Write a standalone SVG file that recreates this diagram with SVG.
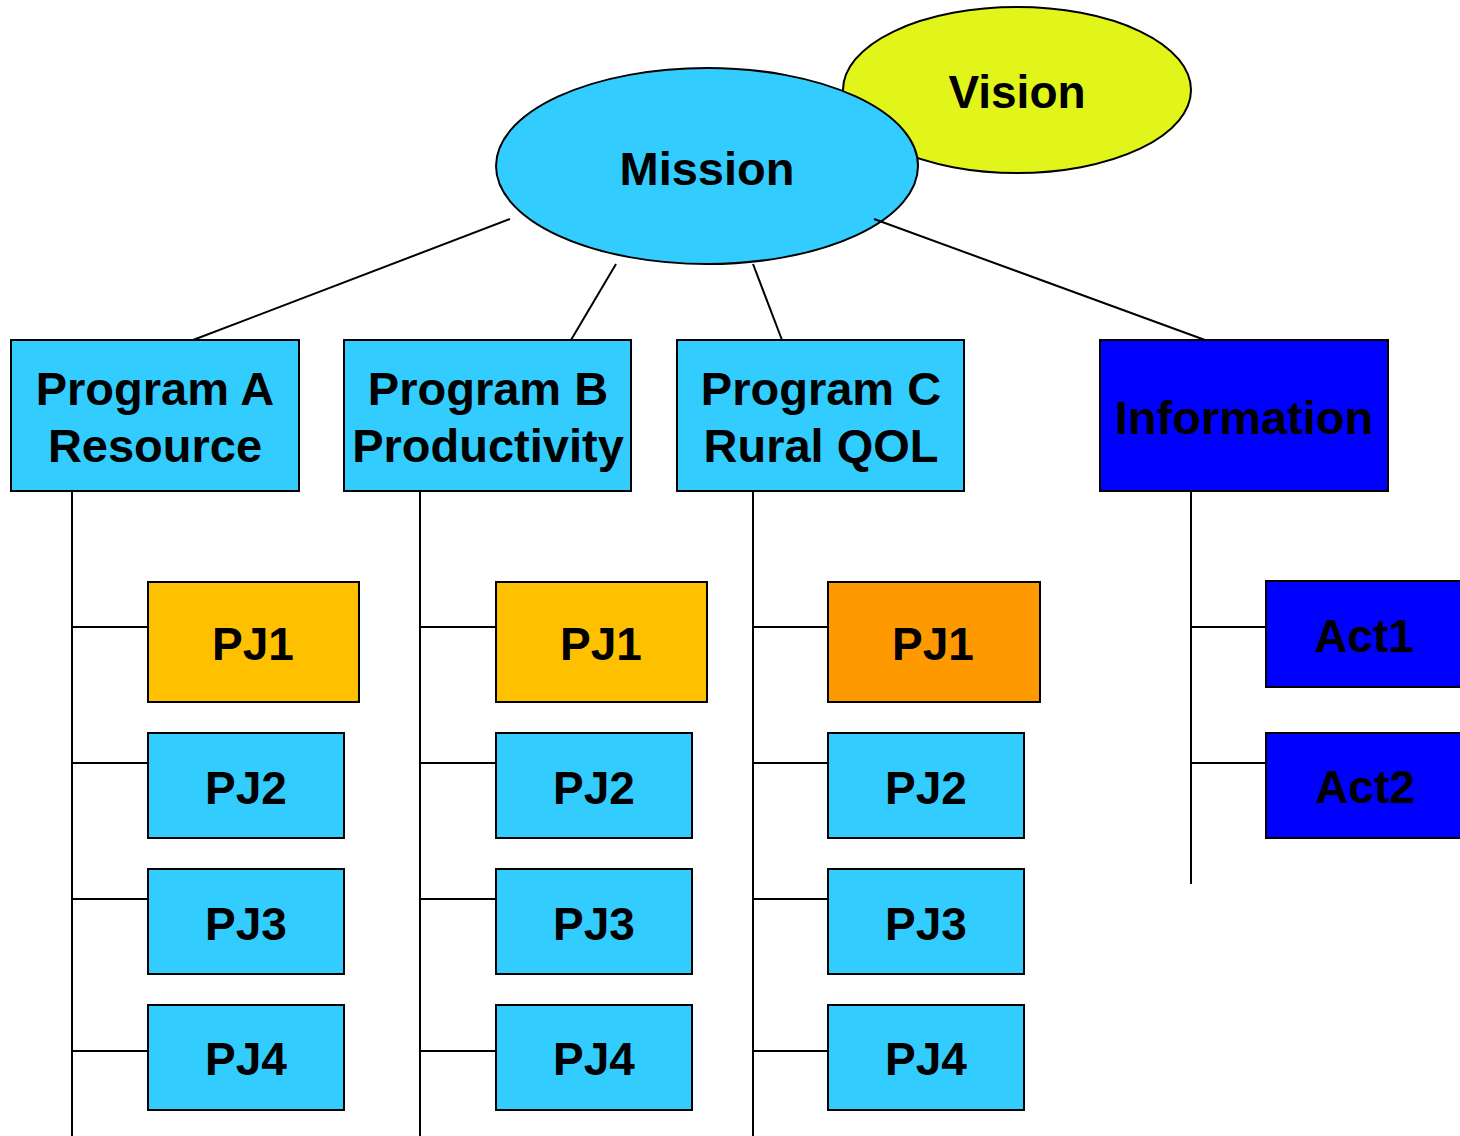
<svg xmlns="http://www.w3.org/2000/svg" width="1460" height="1136" viewBox="0 0 1460 1136">
<style>
.t{font-family:"Liberation Sans",Arial,sans-serif;font-weight:bold;fill:#000;text-anchor:middle}
.lb{fill:#33CCFF;stroke:#000;stroke-width:2}
.or{fill:#FFC000;stroke:#000;stroke-width:2}
.or2{fill:#FF9900;stroke:#000;stroke-width:2}
.bl{fill:#0000FF;stroke:#000;stroke-width:2}
.c{stroke:#000;stroke-width:2;fill:none}
</style>
<rect width="1460" height="1136" fill="#fff"/>
<g id="vision">
<ellipse cx="1017" cy="90" rx="174" ry="83" fill="#E1F51A" stroke="#000" stroke-width="2"/>
<text class="t" x="1017" y="108" font-size="46">Vision</text>
</g>
<g id="mission">
<ellipse cx="707" cy="166" rx="211" ry="98" fill="#33CCFF" stroke="#000" stroke-width="2"/>
<text class="t" x="707" y="185" font-size="47">Mission</text>
</g>
<g id="connectors">
<line class="c" x1="510" y1="219" x2="193" y2="340"/>
<line class="c" x1="616" y1="264" x2="571" y2="340"/>
<line class="c" x1="753" y1="264" x2="782" y2="340"/>
<line class="c" x1="874" y1="219" x2="1205" y2="340"/>
<line class="c" x1="72" y1="491" x2="72" y2="1136"/>
<line class="c" x1="420" y1="491" x2="420" y2="1136"/>
<line class="c" x1="753" y1="491" x2="753" y2="1136"/>
<line class="c" x1="1191" y1="491" x2="1191" y2="884"/>
<path class="c" d="M72 627H148M72 763H148M72 899H148M72 1051H148"/>
<path class="c" d="M420 627H496M420 763H496M420 899H496M420 1051H496"/>
<path class="c" d="M753 627H828M753 763H828M753 899H828M753 1051H828"/>
<path class="c" d="M1191 627H1266M1191 763H1266"/>
</g>
<g id="programA">
<rect class="lb" x="11" y="340" width="288" height="151"/>
<text class="t" x="155" y="405" font-size="47">Program A</text>
<text class="t" x="155" y="462" font-size="47">Resource</text>
</g>
<g id="programB">
<rect class="lb" x="344" y="340" width="287" height="151"/>
<text class="t" x="488" y="405" font-size="47">Program B</text>
<text class="t" x="488" y="462" font-size="47">Productivity</text>
</g>
<g id="programC">
<rect class="lb" x="677" y="340" width="287" height="151"/>
<text class="t" x="821" y="405" font-size="47">Program C</text>
<text class="t" x="821" y="462" font-size="47">Rural QOL</text>
</g>
<g id="information">
<rect class="bl" x="1100" y="340" width="288" height="151"/>
<text class="t" x="1244" y="434" font-size="47">Information</text>
</g>
<g id="a-pj1"><rect class="or" x="148" y="582" width="211" height="120"/><text class="t" x="253" y="660" font-size="46">PJ1</text></g>
<g id="a-pj2"><rect class="lb" x="148" y="733" width="196" height="105"/><text class="t" x="246" y="804" font-size="46">PJ2</text></g>
<g id="a-pj3"><rect class="lb" x="148" y="869" width="196" height="105"/><text class="t" x="246" y="940" font-size="46">PJ3</text></g>
<g id="a-pj4"><rect class="lb" x="148" y="1005" width="196" height="105"/><text class="t" x="246" y="1075" font-size="46">PJ4</text></g>
<g id="b-pj1"><rect class="or" x="496" y="582" width="211" height="120"/><text class="t" x="601" y="660" font-size="46">PJ1</text></g>
<g id="b-pj2"><rect class="lb" x="496" y="733" width="196" height="105"/><text class="t" x="594" y="804" font-size="46">PJ2</text></g>
<g id="b-pj3"><rect class="lb" x="496" y="869" width="196" height="105"/><text class="t" x="594" y="940" font-size="46">PJ3</text></g>
<g id="b-pj4"><rect class="lb" x="496" y="1005" width="196" height="105"/><text class="t" x="594" y="1075" font-size="46">PJ4</text></g>
<g id="c-pj1"><rect class="or2" x="828" y="582" width="212" height="120"/><text class="t" x="933" y="660" font-size="46">PJ1</text></g>
<g id="c-pj2"><rect class="lb" x="828" y="733" width="196" height="105"/><text class="t" x="926" y="804" font-size="46">PJ2</text></g>
<g id="c-pj3"><rect class="lb" x="828" y="869" width="196" height="105"/><text class="t" x="926" y="940" font-size="46">PJ3</text></g>
<g id="c-pj4"><rect class="lb" x="828" y="1005" width="196" height="105"/><text class="t" x="926" y="1075" font-size="46">PJ4</text></g>
<g id="act1"><rect class="bl" x="1266" y="581" width="210" height="106"/><text class="t" x="1364" y="652" font-size="46">Act1</text></g>
<g id="act2"><rect class="bl" x="1266" y="733" width="210" height="105"/><text class="t" x="1365" y="803" font-size="46">Act2</text></g>
</svg>
